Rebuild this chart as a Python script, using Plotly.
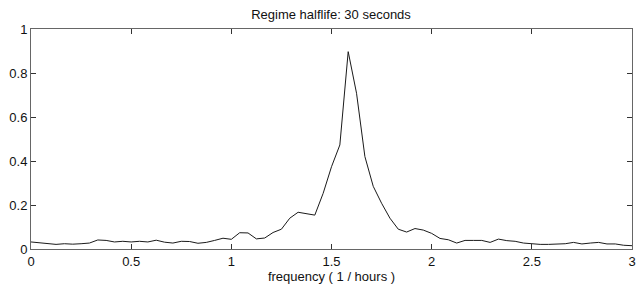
import plotly.graph_objects as go

freq = [0.0, 0.0417, 0.0833, 0.125, 0.1667, 0.2083, 0.25, 0.2917, 0.3333, 0.375,
        0.4167, 0.4583, 0.5, 0.5417, 0.5833, 0.625, 0.6667, 0.7083, 0.75, 0.7917,
        0.8333, 0.875, 0.9167, 0.9583, 1.0, 1.0417, 1.0833, 1.125, 1.1667, 1.2083,
        1.25, 1.2917, 1.3333, 1.375, 1.4167, 1.4583, 1.5, 1.5417, 1.5833, 1.625,
        1.6667, 1.7083, 1.75, 1.7917, 1.8333, 1.875, 1.9167, 1.9583, 2.0, 2.0417,
        2.0833, 2.125, 2.1667, 2.2083, 2.25, 2.2917, 2.3333, 2.375, 2.4167, 2.4583,
        2.5, 2.5417, 2.5833, 2.625, 2.6667, 2.7083, 2.75, 2.7917, 2.8333, 2.875,
        2.9167, 2.9583, 3.0]
power = [0.032, 0.028, 0.024, 0.021, 0.024, 0.022, 0.024, 0.027, 0.041, 0.039,
         0.032, 0.035, 0.032, 0.035, 0.032, 0.040, 0.031, 0.027, 0.035, 0.034,
         0.026, 0.030, 0.039, 0.049, 0.044, 0.074, 0.073, 0.046, 0.050, 0.075,
         0.090, 0.140, 0.167, 0.161, 0.154, 0.253, 0.374, 0.473, 0.897, 0.708,
         0.420, 0.285, 0.208, 0.140, 0.090, 0.077, 0.093, 0.086, 0.071, 0.048,
         0.042, 0.027, 0.039, 0.039, 0.039, 0.030, 0.045, 0.038, 0.035, 0.027,
         0.023, 0.021, 0.021, 0.021, 0.024, 0.030, 0.023, 0.027, 0.030, 0.023,
         0.023, 0.017, 0.015]

xticks = [0, 0.5, 1, 1.5, 2, 2.5, 3]
xticklabels = ["0", "0.5", "1", "1.5", "2", "2.5", "3"]
yticks = [0, 0.2, 0.4, 0.6, 0.8, 1]
yticklabels = ["0", "0.2", "0.4", "0.6", "0.8", "1"]

title = "Regime halflife: 30 seconds"
xlabel = "frequency ( 1 / hours )"

FONT = "Liberation Sans, Arial, Helvetica, sans-serif"

fig = go.Figure()
fig.add_trace(go.Scatter(x=freq, y=power, mode="lines",
                         line=dict(color="#1a1a1a", width=1), showlegend=False,
                         hoverinfo="skip"))

axis_common = dict(showgrid=False, zeroline=False, showline=True, linecolor="#666666",
                   linewidth=1, mirror="ticks", ticks="inside", ticklen=5,
                   tickcolor="#333333", tickwidth=1, automargin=False,
                   tickfont=dict(family=FONT, size=13, color="#111111"))

fig.update_layout(
    width=639, height=286,
    margin=dict(l=31, r=7, t=29, b=37),
    paper_bgcolor="white", plot_bgcolor="white",
    title=dict(text=title, x=0.518, xanchor="center", y=1 - 14 / 286, yanchor="middle",
               font=dict(family=FONT, size=13, color="#111111")),
    xaxis=dict(range=[0, 3], tickvals=xticks, ticktext=xticklabels,
               title=dict(text=xlabel, standoff=1,
                          font=dict(family=FONT, size=13, color="#111111")),
               **axis_common),
    yaxis=dict(range=[0, 1], tickvals=yticks, ticktext=yticklabels, **axis_common),
)

fig.write_html("out.html", config={"displayModeBar": False},
               post_script="document.body.style.margin='0';document.body.style.overflow='hidden';")
